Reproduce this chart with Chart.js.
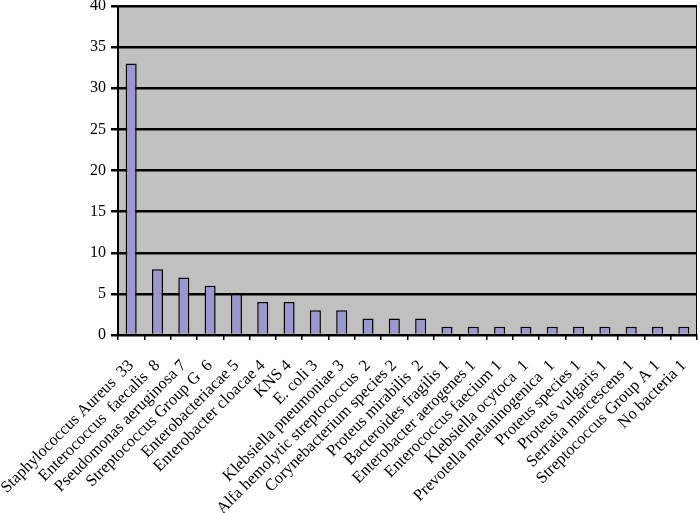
<!DOCTYPE html>
<html>
<head>
<meta charset="utf-8">
<script src="https://cdn.jsdelivr.net/npm/chart.js@4"></script>
<style>
  html, body { margin: 0; padding: 0; background: #fff; }
  #wrap { width: 700px; height: 513px; }
</style>
</head>
<body>
<div id="wrap"><canvas id="chart" width="700" height="513"></canvas></div>
<script>
// labels as printed under the bars (count included)
const categories = [
    'Staphylococcus Aureus  33',
    'Enterococcus  faecalis  8',
    'Pseudomonas aeruginosa 7',
    'Streptococcus Group G  6',
    'Enterobacteriacae 5',
    'Enterobacter cloacae 4',
    'KNS 4',
    'E. coli 3',
    'Klebsiella pneumoniae 3',
    'Alfa hemolytic streptococcus  2',
    'Corynebacterium species 2',
    'Proteus mirabilis  2',
    'Bacteroides fragilis 1',
    'Enterobacter aerogenes 1',
    'Enterococcus faecium 1',
    'Klebsiella ocytoca  1',
    'Prevotella melaninogenica  1',
    'Proteus species 1',
    'Proteus vulgaris 1',
    'Serratia marcescens 1',
    'Streptococcus Group A 1',
    'No bacteria 1'
];
const counts = [33, 8, 7, 6, 5, 4, 4, 3, 3, 2, 2, 2, 1, 1, 1, 1, 1, 1, 1, 1, 1, 1];
const yTicks = [0, 5, 10, 15, 20, 25, 30, 35, 40];

// grey plot background + thin frame around chart area
const plotFrame = {
    id: 'plotFrame',
    beforeDraw(chart) {
        const { ctx, chartArea: a } = chart;
        ctx.save();
        ctx.fillStyle = '#c0c0c0';
        ctx.fillRect(a.left, a.top, a.right - a.left, a.bottom - a.top);
        ctx.restore();
    },
    afterDraw(chart) {
        const { ctx, chartArea: a } = chart;
        ctx.save();
        ctx.strokeStyle = '#000';
        ctx.lineWidth = 1;
        ctx.strokeRect(a.left + 0.5, a.top + 0.5, a.right - a.left - 1, a.bottom - a.top);
        ctx.restore();
    }
};

new Chart(document.getElementById('chart').getContext('2d'), {
    type: 'bar',
    data: {
        labels: categories,
        datasets: [{
            data: counts,
            backgroundColor: '#9999d0',
            borderColor: '#000',
            borderWidth: 1.5,
            barPercentage: 0.42,
            categoryPercentage: 1
        }]
    },
    options: {
        responsive: false,
        animation: false,
        layout: { padding: { top: 6, right: 3, left: 0, bottom: 0 } },
        plugins: { legend: { display: false }, tooltip: { enabled: false } },
        scales: {
            x: {
                grid: { display: true, drawOnChartArea: false, color: '#000', lineWidth: 1.5, tickLength: 5 },
                border: { color: '#000', width: 1.5 },
                ticks: {
                    color: '#000',
                    font: { family: '"Liberation Serif", "Times New Roman", serif', size: 16.5 },
                    minRotation: 45,
                    maxRotation: 45,
                    autoSkip: false,
                    padding: 16
                },
                afterFit(scale) {
                    scale.height = 178;
                    // let rotated labels run to the canvas edge instead of shrinking the plot
                    scale.paddingLeft = 0;
                    scale.paddingRight = 0;
                }
            },
            y: {
                min: 0,
                max: 40,
                afterBuildTicks(scale) { scale.ticks = yTicks.map(v => ({ value: v })); },
                grid: { color: '#000', lineWidth: 2.5, tickLength: 7 },
                border: { color: '#000', width: 1.5 },
                ticks: {
                    color: '#000',
                    font: { family: '"Liberation Serif", "Times New Roman", serif', size: 16 },
                    padding: 5
                },
                afterFit(scale) {
                    scale.width = 118;
                    scale.paddingTop = 0;
                    scale.paddingBottom = 0;
                }
            }
        }
    },
    plugins: [plotFrame]
});
</script>
</body>
</html>
